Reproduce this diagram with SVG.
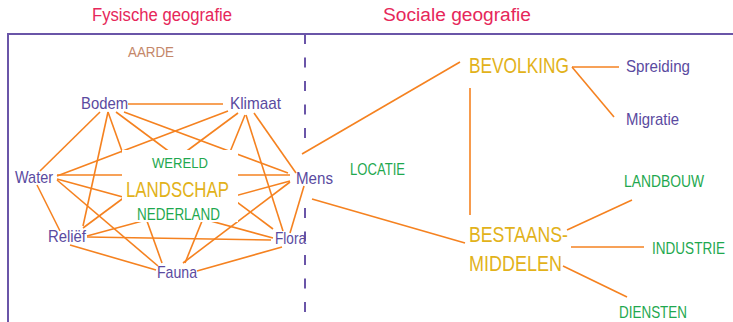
<svg xmlns="http://www.w3.org/2000/svg" width="733" height="322" viewBox="0 0 733 322">
<style>
text{font-family:"Liberation Sans",Arial,sans-serif;}
.t{font-size:18px;fill:#e6275a;}
.p{font-size:17px;fill:#5a4aa0;}
.g{font-size:17px;fill:#1fa84f;}
.y{font-size:21.5px;fill:#e2b21a;}
.a{font-size:15.5px;fill:#c4876a;}
.e line{stroke:#f58220;stroke-width:1.6;fill:none;}
.f{stroke:#6a55a8;stroke-width:2;fill:none;}
.d{stroke:#6a55a8;stroke-width:2;fill:none;stroke-dasharray:10 13.5;}
</style>
<rect width="733" height="322" fill="#fff"/>
<g id="frame">
<polyline class="f" points="8,322 8,34 733,34"/>
<line class="d" x1="305" y1="34" x2="305" y2="140"/>
<line class="d" x1="305" y1="208" x2="305" y2="312"/>
</g>
<g id="titles">
<text class="t" x="92" y="21" textLength="140" lengthAdjust="spacingAndGlyphs">Fysische geografie</text>
<text class="t" x="383" y="21" textLength="148" lengthAdjust="spacingAndGlyphs">Sociale geografie</text>
</g>
<g id="connectors" class="e">
<line x1="128" y1="104" x2="223" y2="104"/>
<line x1="100" y1="112" x2="40" y2="171"/>
<line x1="108" y1="112" x2="83" y2="226"/>
<line x1="108" y1="112" x2="162" y2="263"/>
<line x1="116" y1="112" x2="273" y2="229"/>
<line x1="124" y1="112" x2="288" y2="173"/>
<line x1="228" y1="111" x2="57" y2="176"/>
<line x1="238" y1="113" x2="83" y2="228"/>
<line x1="245" y1="115" x2="185" y2="263"/>
<line x1="246" y1="115" x2="283" y2="231"/>
<line x1="254" y1="113" x2="296" y2="173"/>
<line x1="57" y1="175" x2="290" y2="175"/>
<line x1="57" y1="179" x2="273" y2="238"/>
<line x1="57" y1="180" x2="158" y2="266"/>
<line x1="37" y1="185" x2="60" y2="231"/>
<line x1="87" y1="236" x2="290" y2="181"/>
<line x1="87" y1="237" x2="271" y2="240"/>
<line x1="70" y1="245" x2="156" y2="270"/>
<line x1="290" y1="182" x2="183" y2="263"/>
<line x1="304" y1="186" x2="290" y2="233"/>
<line x1="282" y1="247" x2="197" y2="271"/>
<line x1="302" y1="154" x2="460" y2="62"/>
<line x1="312" y1="199" x2="465" y2="243"/>
<line x1="470" y1="88" x2="470" y2="215"/>
<line x1="572" y1="67" x2="619" y2="67"/>
<line x1="572" y1="67" x2="614" y2="117"/>
<line x1="567" y1="230" x2="632" y2="200"/>
<line x1="571" y1="247" x2="644" y2="247"/>
<line x1="563" y1="266" x2="627" y2="297"/>
</g>
<g id="landschap">
<rect x="122" y="150" width="116" height="72" fill="#fff"/>
<text class="g" x="152" y="168" style="font-size:15.5px" textLength="56" lengthAdjust="spacingAndGlyphs">WERELD</text>
<text class="y" x="126" y="197" textLength="103" lengthAdjust="spacingAndGlyphs">LANDSCHAP</text>
<text class="g" x="137" y="220" textLength="83" lengthAdjust="spacingAndGlyphs">NEDERLAND</text>
</g>
<g id="aarde"><text class="a" x="128" y="57" textLength="46" lengthAdjust="spacingAndGlyphs">AARDE</text></g>
<g id="bodem"><text class="p" x="81" y="109" textLength="47" lengthAdjust="spacingAndGlyphs">Bodem</text></g>
<g id="klimaat"><text class="p" x="230" y="109" textLength="51" lengthAdjust="spacingAndGlyphs">Klimaat</text></g>
<g id="water"><text class="p" x="15" y="183" textLength="38" lengthAdjust="spacingAndGlyphs">Water</text></g>
<g id="mens"><text class="p" x="296" y="184" textLength="37" lengthAdjust="spacingAndGlyphs">Mens</text></g>
<g id="relief"><text class="p" x="48" y="242" textLength="38" lengthAdjust="spacingAndGlyphs">Reliëf</text></g>
<g id="flora"><text class="p" x="275" y="244" textLength="31" lengthAdjust="spacingAndGlyphs">Flora</text></g>
<g id="fauna"><text class="p" x="157" y="278" textLength="40" lengthAdjust="spacingAndGlyphs">Fauna</text></g>
<g id="locatie"><text class="g" x="350" y="175" textLength="55" lengthAdjust="spacingAndGlyphs">LOCATIE</text></g>
<g id="bevolking"><text class="y" x="469" y="73" textLength="100" lengthAdjust="spacingAndGlyphs">BEVOLKING</text></g>
<g id="spreiding"><text class="p" x="626" y="72" textLength="64" lengthAdjust="spacingAndGlyphs">Spreiding</text></g>
<g id="migratie"><text class="p" x="626" y="125" textLength="53" lengthAdjust="spacingAndGlyphs">Migratie</text></g>
<g id="bestaansmiddelen">
<text class="y" x="469" y="242" style="font-size:22px" textLength="99" lengthAdjust="spacingAndGlyphs">BESTAANS-</text>
<text class="y" x="469" y="271" style="font-size:22px" textLength="93" lengthAdjust="spacingAndGlyphs">MIDDELEN</text>
</g>
<g id="landbouw"><text class="g" x="624" y="187" textLength="80" lengthAdjust="spacingAndGlyphs">LANDBOUW</text></g>
<g id="industrie"><text class="g" transform="translate(652,254) scale(1,1.15)" x="0" y="0" style="font-size:14.8px" textLength="73" lengthAdjust="spacingAndGlyphs">INDUSTRIE</text></g>
<g id="diensten"><text class="g" x="619" y="318" textLength="68" lengthAdjust="spacingAndGlyphs">DIENSTEN</text></g>
</svg>
